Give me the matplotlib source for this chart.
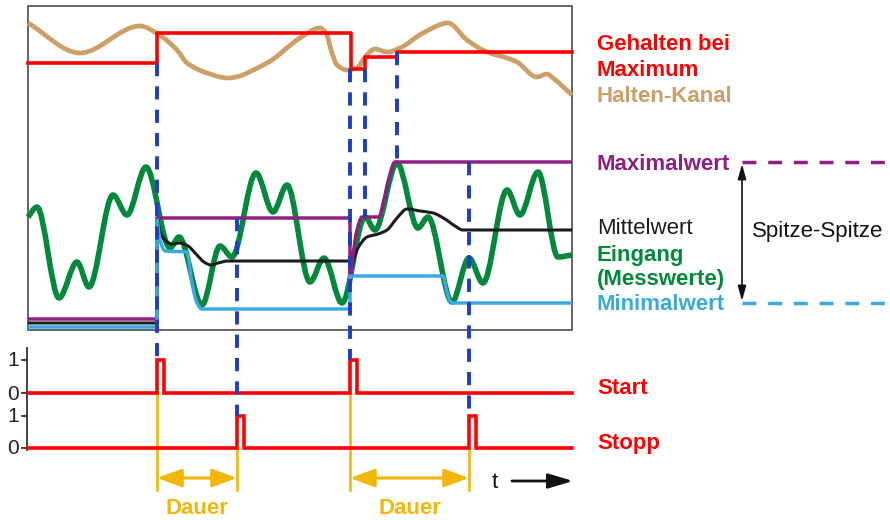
import numpy as np
import matplotlib
matplotlib.use("Agg")
from matplotlib import pyplot as plt
from matplotlib.path import Path
from matplotlib.patches import PathPatch, Rectangle

plt.rcParams['font.family'] = ['Liberation Sans', 'DejaVu Sans']

# diagram units: x = time, y = level (screen-like, grows downwards)
box = (28, 6, 572, 330)

# input signal (peaks / valleys)
in_x = [28, 37, 59, 77, 89, 113, 127, 146, 170, 179, 202, 220, 232, 256, 273, 287,
        310, 324, 342, 365, 375, 397, 418, 428, 452, 469, 483, 507, 520, 538, 558, 572]
in_y = [217, 207, 298, 262, 287, 195, 215, 167, 248, 237, 305, 246, 257, 173, 212, 185,
        282, 258, 303, 217, 230, 163, 228, 217, 302, 258, 283, 190, 215, 172, 257, 255]

# hold channel
hold_x = [28, 80, 140, 158, 177, 187, 207, 228, 267, 300, 320, 326, 332, 337, 347, 357,
          365, 375, 387, 400, 423, 448, 467, 487, 507, 517, 537, 547, 553, 572]
hold_y = [23, 53, 26, 34, 50, 63, 73, 78, 63, 38, 28, 33, 53, 65, 70, 68,
          57, 49, 52, 48, 33, 23, 40, 52, 58, 62, 77, 74, 78, 95]

# held at maximum (step values)
held_x = [28, 157, 351, 365, 397, 572]
held_y = [63, 33, 69, 57, 52, 52]

# maximum, minimum, mean
max_x = [28, 157, 157, 350, 350, 353, 357, 362, 379, 384, 389, 395, 572]
max_y = [319, 319, 218, 218, 279, 255, 230, 217, 217, 200, 178, 162, 162]
min_x = [28, 157, 157, 160, 165, 187, 192, 197, 202, 350, 350, 443, 447, 450, 453, 572]
min_y = [327, 327, 220, 240, 251, 252, 283, 303, 309, 309, 276, 276, 292, 301, 303, 303]
mean_x = [28, 157, 157, 160, 165, 172, 180, 188, 196, 204, 211, 218, 228, 350, 350,
          353, 358, 367, 378, 387, 397, 407, 420, 433, 445, 455, 463, 572]
mean_y = [323, 323, 218, 232, 240, 244, 243, 246, 254, 262, 265, 263, 261, 261, 272,
          262, 248, 237, 234, 230, 218, 209, 211, 213, 219, 226, 230, 230]

# trigger events
start_t = [157, 350]
stop_t = [237, 469]
pulse_w = 7
start_base, start_top = 393, 360
stop_base, stop_top = 448, 416

# dashed markers: time, upper end, lower end
mark_x = [157, 237, 350, 365, 397, 469]
mark_top = [63, 218, 69, 69, 52, 162]
mark_bot = [360, 416, 360, 217, 162, 416]

RED = '#ff0000'
TAN = '#cc9f66'
PURPLE = '#8e1f80'
GREEN = '#00893a'
LBLUE = '#3aa9e0'
BLACK = '#1c1c1c'
DBLUE = '#1f3cc8'
YELLOW = '#f2b705'


def smooth_path(xs, ys):
    """Monotone cubic (Fritsch-Carlson style) path through the points."""
    xs = np.asarray(xs, float)
    ys = np.asarray(ys, float)
    n = len(xs)
    dx = np.diff(xs)
    dy = np.diff(ys)
    d = np.full(n - 1, np.nan)
    ok = dx > 0
    d[ok] = dy[ok] / dx[ok]
    m = np.zeros(n)
    for i in range(n):
        left = d[i - 1] if i > 0 else np.nan
        right = d[i] if i < n - 1 else np.nan
        if np.isnan(left) and np.isnan(right):
            m[i] = 0
        elif np.isnan(left):
            m[i] = right if i == 0 else 0.5 * right
        elif np.isnan(right):
            m[i] = left if i == n - 1 else 0.5 * left
        elif left * right <= 0:
            m[i] = 0
        else:
            m[i] = 2 / (1 / left + 1 / right)
    verts = [(xs[0], ys[0])]
    codes = [Path.MOVETO]
    for i in range(n - 1):
        h = dx[i]
        if h == 0:
            verts.append((xs[i + 1], ys[i + 1]))
            codes.append(Path.LINETO)
            continue
        verts += [(xs[i] + h / 3, ys[i] + m[i] * h / 3),
                  (xs[i + 1] - h / 3, ys[i + 1] - m[i + 1] * h / 3),
                  (xs[i + 1], ys[i + 1])]
        codes += [Path.CURVE4] * 3
    return Path(verts, codes)


def curve(ax, xs, ys, color, lw, z):
    ax.add_patch(PathPatch(smooth_path(xs, ys), fill=False, edgecolor=color,
                           lw=lw, zorder=z, capstyle='butt', joinstyle='round'))


fig = plt.figure(figsize=(8.9, 5.2), dpi=100)
ax = fig.add_axes([0, 0, 1, 1])
ax.set_xlim(0, 890)
ax.set_ylim(520, 0)
ax.axis('off')

# frame of the upper panel
ax.add_patch(Rectangle((box[0], box[1]), box[2] - box[0], box[3] - box[1],
                       fill=False, edgecolor='#4a4a4a', lw=1.2, zorder=1))

curve(ax, hold_x, hold_y, TAN, 3.4, 2)
ax.step(held_x, held_y, where='post', color=RED, lw=2.6, zorder=3)
curve(ax, in_x, in_y, GREEN, 4.0, 2)
curve(ax, mean_x, mean_y, BLACK, 2.2, 3)
curve(ax, max_x, max_y, PURPLE, 2.5, 3)
curve(ax, min_x, min_y, LBLUE, 2.5, 3)

for x, top, bot in zip(mark_x, mark_top, mark_bot):
    ax.plot([x, x], [top, bot], color=DBLUE, lw=2.8, dashes=(3.4, 2.6), zorder=5)

# start / stop pulses
def pulse_line(times, base, top):
    px, py = [box[0]], [base]
    for t in times:
        px += [t, t, t + pulse_w, t + pulse_w]
        py += [base, top, top, base]
    px.append(box[2])
    py.append(base)
    return px, py

for times, base, top in [(start_t, start_base, start_top), (stop_t, stop_base, stop_top)]:
    px, py = pulse_line(times, base, top)
    ax.plot(px, py, color=RED, lw=2.6, zorder=4, solid_joinstyle='miter')

# small level axis
ax.plot([27, 27], [348, 450], color='#333333', lw=1.3)
for lvl, lab in [(start_top, '1'), (start_base, '0'), (stop_top, '1'), (stop_base, '0')]:
    ax.plot([22, 27], [lvl, lvl], color='#333333', lw=1.3)
    ax.text(13, lvl + 6.5, lab, fontsize=15, ha='center', va='baseline', color='#222222')

# duration markers
for t0, t1 in zip(start_t, stop_t):
    ax.plot([t0, t0], [start_base, 490], color=YELLOW, lw=1.9, zorder=3)
    ax.plot([t1, t1], [stop_base, 490], color=YELLOW, lw=1.9, zorder=3)
    ax.annotate('', xy=(t1, 478), xytext=(t0, 478),
                arrowprops=dict(arrowstyle='<|-|>,head_length=1.5,head_width=0.55',
                                color=YELLOW, lw=2.2, shrinkA=0, shrinkB=0))
    ax.text((t0 + t1) / 2, 514, 'Dauer', color=YELLOW, fontsize=16,
            fontweight='bold', ha='center', va='baseline')

# time arrow
ax.text(495, 488, 't', fontsize=16, ha='center', va='baseline', color='#111111')
ax.annotate('', xy=(573, 481), xytext=(512, 481),
            arrowprops=dict(arrowstyle='-|>,head_length=1.5,head_width=0.45',
                            color='#111111', lw=2.0, shrinkA=0, shrinkB=0))

# labels on the right
labels = [
    ('Gehalten bei', 43, RED, 'bold'),
    ('Maximum', 68, RED, 'bold'),
    ('Halten-Kanal', 95, TAN, 'bold'),
    ('Maximalwert', 162, PURPLE, 'bold'),
    ('Mittelwert', 227, BLACK, 'normal'),
    ('Eingang', 253, GREEN, 'bold'),
    ('(Messwerte)', 278, GREEN, 'bold'),
    ('Minimalwert', 303, LBLUE, 'bold'),
    ('Start', 386, RED, 'bold'),
    ('Stopp', 441, RED, 'bold'),
]
for txt, y, col, wt in labels:
    ax.text(597, y + 7.5, txt, color=col, fontsize=16, fontweight=wt,
            ha='left', va='baseline')

max_level = max_y[-1]
min_level = min_y[-1]
ax.plot([742, 886], [max_level, max_level], color=PURPLE, lw=2.5, dashes=(4, 3.4))
ax.plot([742, 886], [min_level, min_level], color=LBLUE, lw=2.5, dashes=(4, 3.4))
ax.annotate('', xy=(742, max_level + 2), xytext=(742, min_level - 2),
            arrowprops=dict(arrowstyle='<|-|>,head_length=0.9,head_width=0.25',
                            color='#111111', lw=1.2, shrinkA=0, shrinkB=0))
ax.text(752, 237, 'Spitze-Spitze', color='#111111', fontsize=16,
        ha='left', va='baseline')

fig.savefig('out.png', dpi=100)
